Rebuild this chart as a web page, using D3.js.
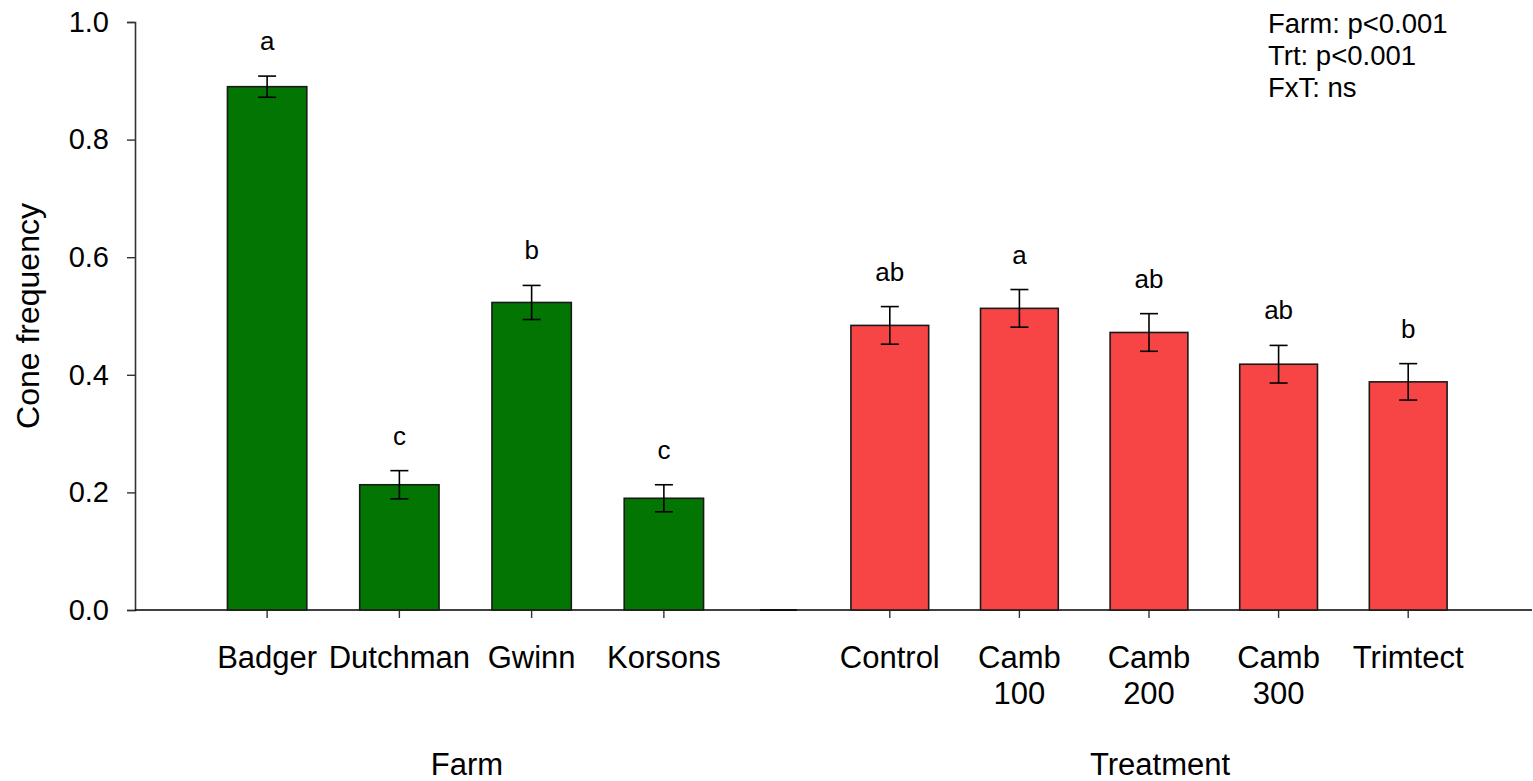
<!DOCTYPE html>
<html>
<head>
<meta charset="utf-8">
<script src="https://cdn.jsdelivr.net/npm/d3@7"></script>
<style>
  html, body { margin: 0; padding: 0; background: #fff; }
  svg { display: block; font-family: "Liberation Sans", Arial, sans-serif; }
</style>
</head>
<body>
<svg id="chart" width="1533" height="781"></svg>
<script>
// Farm panel
const farms = ["Badger", "Dutchman", "Gwinn", "Korsons"];
const farmMeans = [0.890, 0.213, 0.523, 0.190];
const farmErrors = [0.018, 0.024, 0.029, 0.023];
const farmLetters = ["a", "c", "b", "c"];

// Treatment panel
const treatments = ["Control", "Camb 100", "Camb 200", "Camb 300", "Trimtect"];
const treatmentLines = [["Control"], ["Camb", "100"], ["Camb", "200"], ["Camb", "300"], ["Trimtect"]];
const treatmentMeans = [0.484, 0.513, 0.472, 0.418, 0.388];
const treatmentErrors = [0.032, 0.032, 0.032, 0.032, 0.031];
const treatmentLetters = ["ab", "a", "ab", "ab", "b"];

const yTicks = [0, 0.2, 0.4, 0.6, 0.8, 1.0];
const statLines = ["Farm: p<0.001", "Trt: p<0.001", "FxT: ns"];

const svg = d3.select("#chart");

const y = d3.scaleLinear().domain([0, 1]).range([610, 22]);
const axisX = 135;

const xFarm = d3.scaleBand().domain(farms).range([201, 730]).paddingInner(0.4).paddingOuter(0.2);
const xTrt = d3.scaleBand().domain(treatments).range([825, 1473]).paddingInner(0.4).paddingOuter(0.2);

// y axis
const yAxis = d3.axisLeft(y).tickValues(yTicks).tickFormat(d3.format(".1f")).tickSizeOuter(0).tickSize(8).tickPadding(18);
const gy = svg.append("g").attr("transform", `translate(${axisX},0)`).call(yAxis);
gy.select(".domain").attr("stroke", "#333").attr("stroke-width", 1.6);
gy.selectAll(".tick line").attr("stroke", "#333").attr("stroke-width", 1.4);
gy.selectAll(".tick text").attr("font-size", 29).attr("fill", "#000")
  .attr("font-family", "Liberation Sans, Arial, sans-serif");

svg.append("text")
  .attr("transform", "translate(39,316) rotate(-90)")
  .attr("text-anchor", "middle")
  .attr("font-size", 32)
  .text("Cone frequency");

function panel(xs, cats, means, errs, letters, fill, lineRange, labelLines, title, titleX) {
  const g = svg.append("g");
  // baseline of the panel
  g.append("line")
    .attr("x1", lineRange[0]).attr("x2", lineRange[1])
    .attr("y1", y(0)).attr("y2", y(0))
    .attr("stroke", "#000").attr("stroke-opacity", 0.75).attr("stroke-width", 1.8);

  // ticks under the bars
  g.selectAll("line.tk").data(cats).join("line")
    .attr("class", "tk")
    .attr("x1", d => xs(d) + xs.bandwidth() / 2).attr("x2", d => xs(d) + xs.bandwidth() / 2)
    .attr("y1", y(0)).attr("y2", y(0) + 8)
    .attr("stroke", "#333").attr("stroke-width", 1.4);

  g.selectAll("rect.bar").data(cats).join("rect")
    .attr("class", "bar")
    .attr("x", d => xs(d))
    .attr("width", xs.bandwidth())
    .attr("y", (d, i) => y(means[i]))
    .attr("height", (d, i) => y(0) - y(means[i]))
    .attr("fill", fill)
    .attr("stroke", "#1a1a1a")
    .attr("stroke-width", 1.6);

  const eb = g.selectAll("g.err").data(cats).join("g").attr("class", "err")
    .attr("transform", d => `translate(${xs(d) + xs.bandwidth() / 2},0)`);
  eb.append("line")
    .attr("y1", (d, i) => y(means[i] + errs[i])).attr("y2", (d, i) => y(means[i] - errs[i]))
    .attr("stroke", "#000").attr("stroke-width", 1.6);
  eb.append("line")
    .attr("x1", -9).attr("x2", 9)
    .attr("y1", (d, i) => y(means[i] + errs[i])).attr("y2", (d, i) => y(means[i] + errs[i]))
    .attr("stroke", "#000").attr("stroke-width", 1.6);
  eb.append("line")
    .attr("x1", -9).attr("x2", 9)
    .attr("y1", (d, i) => y(means[i] - errs[i])).attr("y2", (d, i) => y(means[i] - errs[i]))
    .attr("stroke", "#000").attr("stroke-width", 1.6);

  // significance letters
  g.selectAll("text.let").data(cats).join("text")
    .attr("class", "let")
    .attr("x", d => xs(d) + xs.bandwidth() / 2)
    .attr("y", (d, i) => y(means[i] + errs[i]) - 26)
    .attr("text-anchor", "middle")
    .attr("font-size", 26)
    .text((d, i) => letters[i]);

  // category labels
  const lab = g.selectAll("text.cat").data(cats).join("text")
    .attr("class", "cat")
    .attr("text-anchor", "middle")
    .attr("font-size", 31);
  lab.each(function (d, i) {
    const t = d3.select(this);
    labelLines[i].forEach((ln, k) => {
      t.append("tspan")
        .attr("x", xs(d) + xs.bandwidth() / 2)
        .attr("y", 668 + k * 36)
        .text(ln);
    });
  });

  svg.append("text")
    .attr("x", titleX).attr("y", 775)
    .attr("text-anchor", "middle")
    .attr("font-size", 31)
    .text(title);
}

panel(xFarm, farms, farmMeans, farmErrors, farmLetters, "#037503", [axisX, 797],
  farms.map(f => [f]), "Farm", 467);
panel(xTrt, treatments, treatmentMeans, treatmentErrors, treatmentLetters, "#f74545", [760, 1532],
  treatmentLines, "Treatment", 1160);

svg.append("g").selectAll("text").data(statLines).join("text")
  .attr("x", 1268)
  .attr("y", (d, i) => 33 + i * 31.8)
  .attr("font-size", 27.5)
  .text(d => d);
</script>
</body>
</html>
